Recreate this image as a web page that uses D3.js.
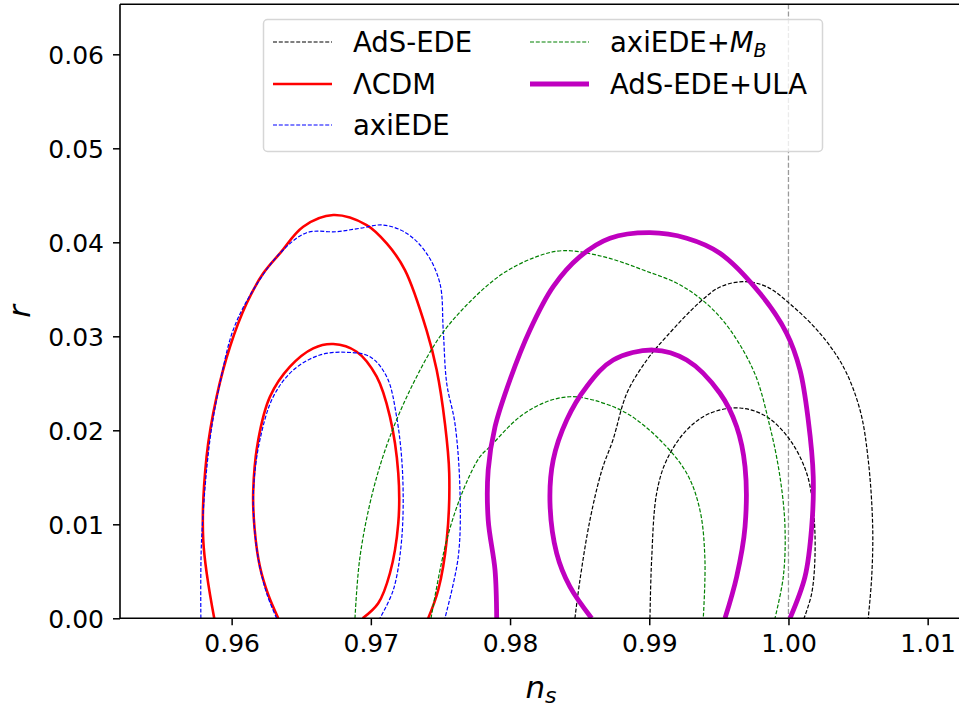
<!DOCTYPE html>
<html>
<head>
<meta charset="utf-8">
<script src="https://cdn.jsdelivr.net/npm/d3@7"></script>
<style>
body { margin:0; background:#fff; }
svg { display:block; font-family: "DejaVu Sans", sans-serif; }
</style>
</head>
<body>
<svg id="chart" width="959" height="709"></svg>
<script>
// contours, [n_s, r], from the left foot round to the right foot
const adsEde68 = [[0.99005,0],[0.99017,0.0062],[0.99053,0.0133],[0.99125,0.01684],[0.99269,0.02003],[0.99436,0.02181],
  [0.99652,0.02237],[0.99843,0.02145],[1.00011,0.01897],[1.00131,0.01543],[1.00179,0.01152],[1.00191,0.00691],[1.00167,0.00266],[1.00112,0]];
const adsEde95 = [[0.98466,0],[0.98502,0.00407],[0.98574,0.01046],[0.9866,0.01578],[0.98739,0.01897],[0.9884,0.02397],[0.98983,0.02748],
  [0.99127,0.03003],[0.99364,0.03365],[0.99508,0.03524],[0.99673,0.03581],[0.99843,0.03528],[1.00034,0.03315],[1.00226,0.03032],
  [1.00394,0.02677],[1.00514,0.02216],[1.00573,0.01684],[1.00605,0.00974],[1.00598,0.00443],[1.00573,0]];
const lcdm68 = [[0.96335,0],[0.96263,0.0025],[0.96203,0.0055],[0.96165,0.0095],[0.96155,0.0135],[0.96191,0.01897],[0.96275,0.02357],[0.96419,0.02677],[0.96586,0.02872],
  [0.9673,0.02918],[0.96898,0.02836],[0.97042,0.0257],[0.97137,0.02145],[0.97197,0.01543],[0.97197,0.01011],[0.97137,0.00479],[0.97053,0.0016],[0.96941,0]];
const lcdm95 = [[0.95875,0],[0.95796,0.00833],[0.9582,0.01719],[0.95892,0.02357],[0.95988,0.02889],[0.96108,0.03351],[0.96227,0.0367],
  [0.96347,0.03883],[0.96514,0.04166],[0.9673,0.0429],[0.9697,0.04184],[0.97114,0.03989],[0.97245,0.03705],[0.974,0.03067],
  [0.97473,0.02641],[0.97532,0.02074],[0.97563,0.01543],[0.97545,0.00833],[0.97484,0.00301],[0.97412,0]];
const axi68 = [[0.96323,0],[0.96255,0.0025],[0.96198,0.0058],[0.96162,0.0100],[0.96158,0.0140],[0.96203,0.01897],[0.96299,0.02357],[0.96443,0.02641],[0.96634,0.02801],
  [0.96826,0.0283],[0.96994,0.02783],[0.97114,0.0257],[0.97185,0.02145],[0.97228,0.01543],[0.97221,0.00833],[0.97161,0.00301],[0.97065,0]];
const axi95 = [[0.95779,0],[0.95784,0.00833],[0.95844,0.01897],[0.95916,0.025],[0.96011,0.03067],[0.96155,0.03493],[0.96347,0.03883],
  [0.96539,0.04102],[0.96754,0.04113],[0.96922,0.04149],[0.97089,0.04184],[0.97257,0.04096],[0.974,0.03883],[0.97496,0.03564],
  [0.9752,0.03067],[0.97545,0.025],[0.97604,0.02074],[0.9764,0.01365],[0.97628,0.00655],[0.97532,0]];
const axiMb68 = [[0.97432,0],[0.97545,0.00833],[0.97664,0.01365],[0.97784,0.01719],[0.97856,0.01826],[0.98071,0.02145],[0.98263,0.02304],
  [0.9843,0.02357],[0.98598,0.02322],[0.98838,0.02181],[0.99077,0.01897],[0.99269,0.01543],[0.99364,0.01152],[0.994,0.0062],[0.99388,0]];
const axiMb95 = [[0.96886,0],[0.96922,0.00655],[0.97017,0.01365],[0.97137,0.01932],[0.97305,0.025],[0.97496,0.02996],[0.97712,0.03368],
  [0.97951,0.0367],[0.98191,0.03847],[0.98382,0.03911],[0.9867,0.03847],[0.98957,0.03705],[0.99244,0.03528],[0.99508,0.03205],
  [0.99747,0.02641],[0.99867,0.02038],[0.99939,0.01506],[0.99975,0.00974],[0.99963,0.00443],[0.99903,0]];
const ula68 = [[0.98586,0],[0.9843,0.00336],[0.98335,0.00691],[0.98287,0.01223],[0.9831,0.01684],[0.98407,0.0211],[0.9855,0.02464],
  [0.98741,0.02748],[0.99029,0.02854],[0.99269,0.02748],[0.99508,0.02394],[0.99628,0.02038],[0.99688,0.01613],[0.99688,0.00974],[0.99628,0.00443],[0.99544,0]];
const ula95 = [[0.97904,0],[0.97892,0.00514],[0.97843,0.01046],[0.97843,0.01578],[0.97892,0.02038],[0.97999,0.02535],[0.98143,0.03067],
  [0.9831,0.03528],[0.98502,0.03847],[0.98718,0.04043],[0.99005,0.04102],[0.99269,0.04043],[0.99508,0.03883],[0.99795,0.03457],
  [0.99987,0.03032],[1.00083,0.02641],[1.00142,0.0211],[1.00178,0.01506],[1.00167,0.00974],[1.00119,0.00443],[1.00011,0]];

const labels = ['AdS-EDE', 'ΛCDM', 'axiEDE', 'axiEDE+M_B', 'AdS-EDE+ULA'];
const xTicks = [0.96, 0.97, 0.98, 0.99, 1.00, 1.01];
const yTicks = [0.00, 0.01, 0.02, 0.03, 0.04, 0.05, 0.06];
const nsRef = 1.0;

const series = [
  { label: labels[0], curves: [adsEde95, adsEde68], color: '#000000', width: 1.2, dash: '4,1.8' },
  { label: labels[1], curves: [lcdm95, lcdm68], color: '#ff0000', width: 2.6, dash: null },
  { label: labels[2], curves: [axi95, axi68], color: '#0000ff', width: 1.2, dash: '4,1.8' },
  { label: labels[3], curves: [axiMb95, axiMb68], color: '#008000', width: 1.2, dash: '4,1.8' },
  { label: labels[4], curves: [ula95, ula68], color: '#bf00bf', width: 4.8, dash: null }
];

const margin = { top: 4.3, left: 120 };
const width = 844, height = 614;

const svg = d3.select('#chart');
const g = svg.append('g').attr('transform', `translate(${margin.left},${margin.top})`);

const x = d3.scaleLinear().domain([0.95198, 1.01261]).range([0, width]);
const y = d3.scaleLinear().domain([0, 0.06532]).range([height, 0]);

svg.append('defs').append('clipPath').attr('id', 'clip')
  .append('rect').attr('width', width).attr('height', height);

const plot = g.append('g').attr('clip-path', 'url(#clip)');

// reference line at n_s = 1
plot.append('line')
  .attr('x1', x(nsRef)).attr('x2', x(nsRef))
  .attr('y1', 0).attr('y2', height)
  .attr('stroke', '#9a9a9a').attr('stroke-width', 1.3)
  .attr('stroke-dasharray', '5,2.2');

const line = d3.line()
  .x(d => x(d[0]))
  .y(d => y(d[1]))
  .curve(d3.curveCatmullRom.alpha(0.5));

series.forEach(s => {
  s.curves.forEach(c => {
    plot.append('path')
      .attr('d', line(c))
      .attr('fill', 'none')
      .attr('stroke', s.color)
      .attr('stroke-width', s.width)
      .attr('stroke-dasharray', s.dash)
      .attr('stroke-linejoin', 'round');
  });
});

// axes
const xAxis = d3.axisBottom(x).tickValues(xTicks).tickFormat(d3.format('.2f')).tickSize(7).tickPadding(9);
const yAxis = d3.axisLeft(y).tickValues(yTicks).tickFormat(d3.format('.2f')).tickSize(7).tickPadding(9);

const gx = g.append('g').attr('transform', `translate(0,${height})`).call(xAxis);
const gy = g.append('g').call(yAxis);
[gx, gy].forEach(a => {
  a.select('.domain').remove();
  a.selectAll('line').attr('stroke', '#000').attr('stroke-width', 1.5);
  a.selectAll('text').attr('fill', '#000').style('font-size', '25px').style('font-family', '"DejaVu Sans", sans-serif');
});
gx.selectAll('text').attr('dy', '0.72em');
gy.selectAll('text').attr('dy', '0.36em');

// spines
g.append('line').attr('x1', 0).attr('x2', width).attr('y1', height).attr('y2', height).attr('stroke', '#000').attr('stroke-width', 1.6);
g.append('line').attr('x1', 0).attr('x2', width).attr('y1', 0).attr('y2', 0).attr('stroke', '#000').attr('stroke-width', 1.6);
g.append('line').attr('x1', 0).attr('x2', 0).attr('y1', 0).attr('y2', height).attr('stroke', '#000').attr('stroke-width', 1.6);
g.append('line').attr('x1', width).attr('x2', width).attr('y1', 0).attr('y2', height).attr('stroke', '#000').attr('stroke-width', 1.6);

// axis labels
const xl = svg.append('text').attr('x', 541).attr('y', 698).attr('text-anchor', 'middle')
  .style('font-size', '31px');
xl.append('tspan').style('font-style', 'italic').text('n');
xl.append('tspan').style('font-style', 'italic').style('font-size', '22px').attr('dy', 5).text('s');

svg.append('text')
  .attr('transform', `translate(30,${margin.top + height / 2}) rotate(-90)`)
  .attr('text-anchor', 'middle')
  .style('font-size', '31px').style('font-style', 'italic')
  .text('r');

// legend
const leg = svg.append('g');
leg.append('rect')
  .attr('x', 263.5).attr('y', 19.5).attr('width', 559).attr('height', 132)
  .attr('rx', 4).attr('fill', '#fff').attr('fill-opacity', 0.8)
  .attr('stroke', '#d6d6d6').attr('stroke-width', 1.5);

const colX = [273, 530];
const rowY = [42, 84, 125];
series.forEach((s, i) => {
  const col = Math.floor(i / 3), row = i % 3;
  const lx = colX[col], ly = rowY[row];
  leg.append('line')
    .attr('x1', lx).attr('x2', lx + 59).attr('y1', ly).attr('y2', ly)
    .attr('stroke', s.color).attr('stroke-width', s.width)
    .attr('stroke-dasharray', s.dash);
  const t = leg.append('text').attr('x', lx + 80).attr('y', ly + 10).style('font-size', '27.5px');
  if (s.label.includes('_')) {
    const [base, sub] = s.label.split('_');
    t.append('tspan').text(base.replace('M', ''));
    t.append('tspan').style('font-style', 'italic').text('M');
    t.append('tspan').style('font-style', 'italic').style('font-size', '19px').attr('dy', 5).text(sub);
  } else {
    t.text(s.label);
  }
});
</script>
</body>
</html>
